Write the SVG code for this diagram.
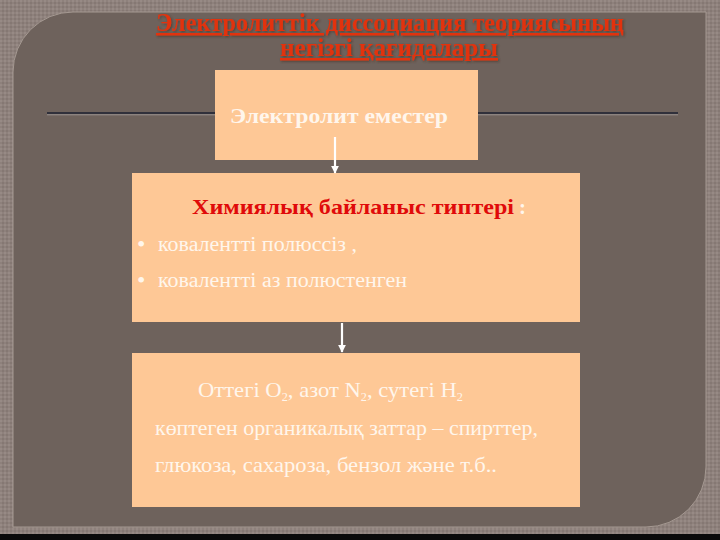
<svg xmlns="http://www.w3.org/2000/svg" width="720" height="540" viewBox="0 0 720 540">
  <defs>
    <pattern id="tex" width="4" height="4" patternUnits="userSpaceOnUse">
      <rect width="4" height="4" fill="#8e817c"/>
      <rect width="2" height="2" fill="#978a85"/>
      <rect x="2" y="2" width="2" height="2" fill="#857873"/>
    </pattern>
    <marker id="ah" viewBox="0 0 10 10" refX="9" refY="5" markerWidth="3.5" markerHeight="3.5" orient="auto" markerUnits="strokeWidth">
      <path d="M0,0 L10,5 L0,10 Z" fill="#ffffff"/>
    </marker>
    <filter id="sh" x="-5%" y="-20%" width="110%" height="140%">
      <feDropShadow dx="1.2" dy="1.2" stdDeviation="0.8" flood-color="#3a2a20" flood-opacity="0.6"/>
    </filter>
  </defs>
  <style>
    .box { fill: #fec896; }
    .title { font-family: "Liberation Serif", "Times New Roman", serif; font-weight: bold; font-size: 25px; fill: #e2330c; text-decoration: underline; }
    .wtxt { font-family: "Liberation Serif", "Times New Roman", serif; fill: #fff6ec; }
    .conn { stroke: #ffffff; stroke-width: 2.2; fill: none; }
  </style>

  <!-- background -->
  <rect x="0" y="0" width="720" height="540" fill="url(#tex)"/>
  <rect x="0" y="534" width="720" height="6" fill="#0a0a0a"/>
  <path d="M13,72 A60,60 0 0 1 73,12 L706,12 L706,467 A60,60 0 0 1 646,527 L13,527 Z" fill="#6e625c" stroke="#a59992" stroke-width="1"/>

  <!-- title -->
  <g id="title" filter="url(#sh)">
    <text class="title" x="156" y="31" textLength="468" lengthAdjust="spacingAndGlyphs">Электролиттік  диссоциация теориясының</text>
    <text class="title" x="280" y="56" textLength="218" lengthAdjust="spacingAndGlyphs"> негізгі қағидалары </text>
  </g>

  <!-- separator line -->
  <g id="separator">
    <line x1="47" y1="113" x2="678" y2="113" stroke="#1c2030" stroke-width="1.5"/>
    <line x1="47" y1="114.8" x2="678" y2="114.8" stroke="#a59e9c" stroke-width="0.8"/>
  </g>

  <!-- node 1 -->
  <g id="node-nonelectrolytes">
    <rect class="box" x="215" y="70" width="263" height="90"/>
    <text class="wtxt" x="230" y="123" font-size="22" font-weight="bold" textLength="218" lengthAdjust="spacingAndGlyphs">Электролит еместер</text>
  </g>

  <!-- node 2 -->
  <g id="node-bond-types">
    <rect class="box" x="132" y="173" width="448" height="149"/>
    <text x="192" y="214" font-family="Liberation Serif, Times New Roman, serif" font-weight="bold" font-size="21" fill="#e00a0a" textLength="322" lengthAdjust="spacingAndGlyphs">Химиялық байланыс типтері</text>
    <text x="519" y="214" font-family="Liberation Serif, Times New Roman, serif" font-weight="bold" font-size="21" fill="#fff6ec">:</text>
    <text class="wtxt" x="137" y="252" font-size="24">•</text>
    <text class="wtxt" x="158" y="251" font-size="20" textLength="199" lengthAdjust="spacingAndGlyphs">ковалентті полюссіз ,</text>
    <text class="wtxt" x="137" y="288" font-size="24">•</text>
    <text class="wtxt" x="158" y="287" font-size="20" textLength="249" lengthAdjust="spacingAndGlyphs">ковалентті аз полюстенген</text>
  </g>

  <!-- node 3 -->
  <g id="node-examples">
    <rect class="box" x="132" y="353" width="448" height="154"/>
    <text class="wtxt" x="198" y="397" font-size="22" textLength="265" lengthAdjust="spacingAndGlyphs">Оттегі  O<tspan font-size="12" dy="4">2</tspan><tspan dy="-4">, азот N</tspan><tspan font-size="12" dy="4">2</tspan><tspan dy="-4">, сутегі H</tspan><tspan font-size="12" dy="4">2</tspan></text>
    <text class="wtxt" x="155" y="435" font-size="22" textLength="383" lengthAdjust="spacingAndGlyphs">көптеген органикалық заттар – спирттер,</text>
    <text class="wtxt" x="155" y="472" font-size="22" textLength="342" lengthAdjust="spacingAndGlyphs">глюкоза, сахароза, бензол  және т.б..</text>
  </g>

  <!-- connectors -->
  <g id="connectors">
    <line class="conn" x1="335" y1="137" x2="335" y2="173" marker-end="url(#ah)"/>
    <line class="conn" x1="342" y1="323" x2="342" y2="352" marker-end="url(#ah)"/>
  </g>
</svg>
